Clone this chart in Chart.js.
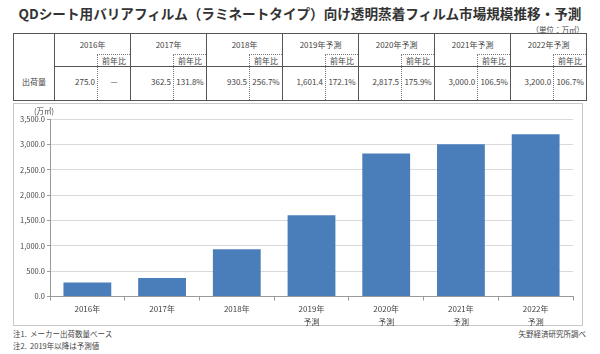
<!DOCTYPE html>
<html>
<head>
<meta charset="utf-8">
<script src="https://cdn.jsdelivr.net/npm/chart.js@4"></script>
<style>
  body { margin: 0; width: 600px; height: 354px; background: #fff; font-family: "Noto Sans CJK JP", sans-serif; color: #444; position: relative; overflow: hidden; }
  .abs { position: absolute; white-space: nowrap; }
  #title { left: 0; top: 3px; width: 600px; text-align: center; font-size: 13.6px; font-weight: bold; color: #333; }
  #unit { right: 16px; top: 24px; font-size: 7.5px; }
  #tbl { position: absolute; left: 13px; top: 33px; width: 573px; border-collapse: collapse; table-layout: fixed; font-size: 8px; border: 1px solid #555; }
  #tbl td { padding: 0; border: none; }
  #tbl .r1 td { height: 20px; text-align: center; border-left: 1px solid #555; border-top: 1px solid #555; }
  #tbl .r2 td { height: 11px; border-bottom: 1px solid #555; }
  #tbl .r2 td.yh { border-top: 1px dotted #777; border-left: 1px dotted #777; text-align: center; border-right: 1px solid #555; }
  #tbl .r3 td { height: 29px; padding-bottom: 4px; }
  #tbl .r3 td.v { text-align: right; padding-right: 2px; border-left: 1px solid #555; border-right: 1px dotted #777; }
  #tbl .r3 td.y { text-align: center; }
  #tbl td.lab { text-align: center; border-right: 1px solid #555; }
  #box { left: 13px; top: 103px; width: 570px; height: 223px; box-sizing: border-box; border: 1px solid #c8c8c8; }
  #chart { position: absolute; left: 13px; top: 103px; }
  #yunit { left: 34px; top: 105px; font-size: 7.5px; }
  .note { font-size: 7.5px; }
</style>
</head>
<body>
<div id="title" class="abs">QDシート用バリアフィルム（ラミネートタイプ）向け透明蒸着フィルム市場規模推移・予測</div>
<div id="unit" class="abs">（単位：万㎡）</div>
<table id="tbl"></table>
<div id="box" class="abs"></div>
<canvas id="chart" width="570" height="223"></canvas>
<div id="yunit" class="abs">(万㎡)</div>
<div class="abs note" style="left:13px;top:328px;">注1.&nbsp; メーカー出荷数量ベース</div>
<div class="abs note" style="left:13px;top:340px;">注2.&nbsp; 2019年以降は予測値</div>
<div class="abs note" style="right:14px;top:328px;">矢野経済研究所調べ</div>
<script>
const years = ['2016年', '2017年', '2018年', '2019年', '2020年', '2021年', '2022年'];
const forecast = [false, false, false, true, true, true, true];
const shipments = [275.0, 362.5, 930.5, 1601.4, 2817.5, 3000.0, 3200.0];
const yoy = ['—', '131.8%', '256.7%', '172.1%', '175.9%', '106.5%', '106.7%'];
const yTicks = [0, 500, 1000, 1500, 2000, 2500, 3000, 3500];

const fmt = v => v.toLocaleString('en-US', { minimumFractionDigits: 1, maximumFractionDigits: 1 });

// table
let cols = '<colgroup><col style="width:41px">';
years.forEach(() => { cols += '<col style="width:43px"><col style="width:33px">'; });
cols += '</colgroup>';
let r1 = '<tr class="r1"><td rowspan="2" class="lab" style="border-left:none"></td>';
let r2 = '<tr class="r2">';
let r3 = '<tr class="r3"><td class="lab">出荷量</td>';
years.forEach((y, i) => {
  r1 += '<td colspan="2">' + y + (forecast[i] ? '予測' : '') + '</td>';
  r2 += '<td style="border-left:1px solid #555"></td><td class="yh">前年比</td>';
  r3 += '<td class="v">' + fmt(shipments[i]) + '</td><td class="y">' + yoy[i] + '</td>';
});
document.getElementById('tbl').innerHTML = cols + r1 + '</tr>' + r2 + '</tr>' + r3 + '</tr>';

// chart
const labels = years.map((y, i) => forecast[i] ? [y, '予測'] : y);
const ctx = document.getElementById('chart').getContext('2d');
new Chart(ctx, {
  type: 'bar',
  data: {
    labels: labels,
    datasets: [{
      data: shipments,
      backgroundColor: '#4a7ebb',
      borderWidth: 0,
      barPercentage: 0.64,
      categoryPercentage: 1,
    }],
  },
  options: {
    responsive: false,
    animation: false,
    layout: { padding: { top: 16, right: 10, left: 0, bottom: 0 } },
    plugins: { legend: { display: false }, tooltip: { enabled: false } },
    scales: {
      x: {
        grid: { drawOnChartArea: false, drawTicks: true, tickLength: 4, tickColor: '#999' },
        border: { color: '#999' },
        ticks: { color: '#444', font: { size: 8, family: 'Noto Sans CJK JP', lineHeight: 1.6 }, padding: 2, maxRotation: 0 },
        afterFit: s => { s.height = 29.5; },
      },
      y: {
        min: 0,
        max: 3500,
        afterBuildTicks: s => { s.ticks = yTicks.map(v => ({ value: v })); },
        grid: { color: '#d9d9d9', tickLength: 3, tickColor: '#999' },
        border: { color: '#999' },
        ticks: { color: '#444', font: { size: 7.5, family: 'Noto Sans CJK JP' }, padding: 2, callback: v => fmt(v) },
        afterFit: s => { s.width = 37; },
      },
    },
  },
});
</script>
</body>
</html>
